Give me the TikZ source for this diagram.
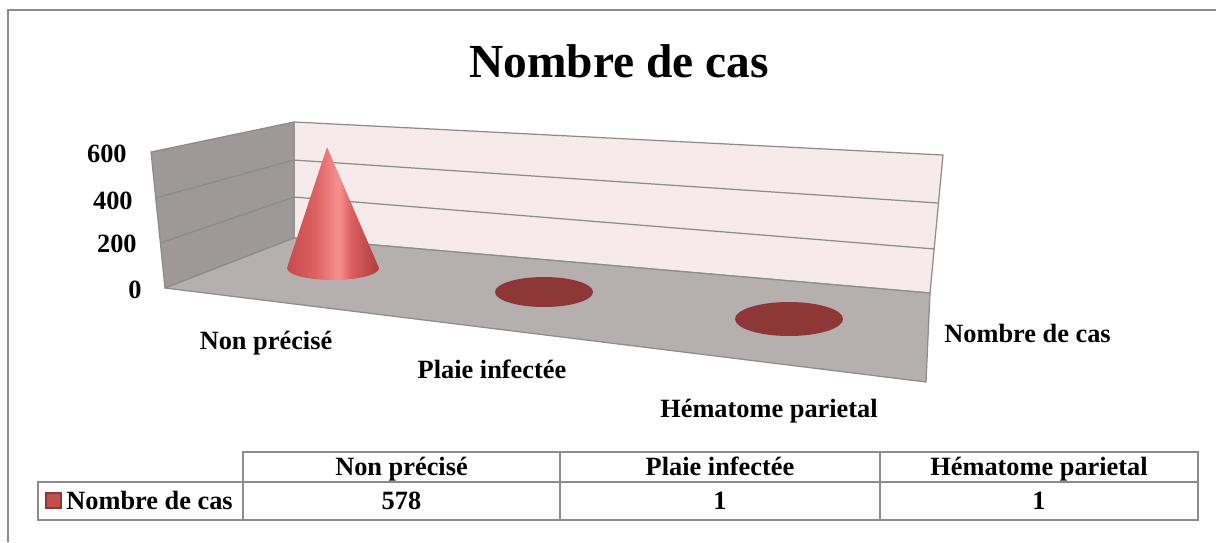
\documentclass[tikz,border=0pt]{standalone}
\usepackage{fontspec}
\setmainfont{Liberation Serif}
\usetikzlibrary{positioning,calc}

\definecolor{framegray}{HTML}{8C8C8C}
\definecolor{sidewall}{HTML}{9E9898}
\definecolor{floorgray}{HTML}{B6AFAF}
\definecolor{backwall}{HTML}{F6EAEA}
\definecolor{discred}{HTML}{8E3737}
\definecolor{coneleft}{HTML}{C94A4A}
\definecolor{coneleftmid}{HTML}{DC6060}
\definecolor{conemid}{HTML}{F79090}
\definecolor{conerightmid}{HTML}{DB5F5F}
\definecolor{coneright}{HTML}{AE3C3C}
\definecolor{legendred}{HTML}{C0504D}

\pgfdeclarehorizontalshading{conegrad}{100bp}{color(0bp)=(coneleft); color(25bp)=(coneleft); color(40bp)=(coneleftmid); color(53bp)=(conemid); color(60bp)=(conerightmid); color(75bp)=(coneright); color(100bp)=(coneright)}

\begin{document}
\begin{tikzpicture}[x=0.02cm,y=-0.02cm]
	\tikzstyle{lbl} = [font=\fontsize{15}{18}\selectfont\bfseries, inner sep=0pt]
	\tikzstyle{title_lbl} = [font=\fontsize{27}{32}\selectfont\bfseries, inner sep=0pt]
	\tikzstyle{wall} = [draw=framegray, line width=0.7pt, line join=round]
	\tikzstyle{grid_line} = [draw=framegray, line width=0.7pt]
	\tikzstyle{cell} = [draw=framegray, line width=0.9pt]

	\useasboundingbox (0,0) rectangle (1216,542);
	% Chart frame
	\draw[framegray, line width=0.9pt] (8,542) -- (8,10) -- (1216,10);

	% Title
	\node (title) [title_lbl, anchor=base] at (619,77) {Nombre de cas};

	% Corners of the box
	\coordinate (SL) at (151,152);
	\coordinate (FL) at (165,288);
	\coordinate (BT) at (294,122);
	\coordinate (BB) at (294,238);
	\coordinate (RT) at (943,155);
	\coordinate (RB) at (930,293);
	\coordinate (FR) at (926,382);

	% Walls and floor
	\filldraw[wall, fill=backwall] (BT) -- (RT) -- (RB) -- (BB) -- cycle;
	\filldraw[wall, fill=sidewall] (SL) -- (BT) -- (BB) -- (FL) -- cycle;
	\filldraw[wall, fill=floorgray] (FL) -- (BB) -- (RB) -- (FR) -- cycle;

	% Grid lines at 200 and 400
	\draw[grid_line] ($(SL)!0.338!(FL)$) -- ($(BT)!0.328!(BB)$) -- ($(RT)!0.348!(RB)$);
	\draw[grid_line] ($(SL)!0.669!(FL)$) -- ($(BT)!0.647!(BB)$) -- ($(RT)!0.681!(RB)$);

	% Axis labels
	\node (y600) [lbl, anchor=base east] at (127,162) {600};
	\node (y400) [lbl, anchor=base east] at (133,209) {400};
	\node (y200) [lbl, anchor=base east] at (137,252) {200};
	\node (y0) [lbl, anchor=base east] at (142,298) {0};

	% Cone and discs
	\shade[shading=conegrad]
		(327,147) -- (379,268) arc[start angle=0, end angle=180, x radius=46, y radius=12] -- cycle;
	\fill[discred] (544,292) ellipse [x radius=49, y radius=15];
	\fill[discred] (789,319) ellipse [x radius=54, y radius=17];

	% Category labels
	\node (c1) [lbl, anchor=base] at (266,349) {Non précisé};
	\node (c2) [lbl, anchor=base] at (492,378) {Plaie infectée};
	\node (c3) [lbl, anchor=base] at (769,417) {Hématome parietal};
	\node (series) [lbl, anchor=base west] at (944,342) {Nombre de cas};

	% Data table
	\draw[cell] (243,452) rectangle (1198,520);
	\draw[cell] (38,482) rectangle (243,520);
	\draw[cell] (243,482) -- (1198,482);
	\foreach \x in {560,880}
	\draw[cell] (\x,452) -- (\x,520);
	\node (h1) [lbl, anchor=base] at (401.5,475) {Non précisé};
	\node (h2) [lbl, anchor=base] at (720,475) {Plaie infectée};
	\node (h3) [lbl, anchor=base] at (1039,475) {Hématome parietal};
	\filldraw[fill=legendred, draw=discred, line width=0.6pt] (46,493) rectangle (61,508);
	\node (leg) [lbl, anchor=base west] at (66,509) {Nombre de cas};
	\node (v1) [lbl, anchor=base] at (401.5,509) {578};
	\node (v2) [lbl, anchor=base] at (720,509) {1};
	\node (v3) [lbl, anchor=base] at (1039,509) {1};
\end{tikzpicture}
\end{document}
